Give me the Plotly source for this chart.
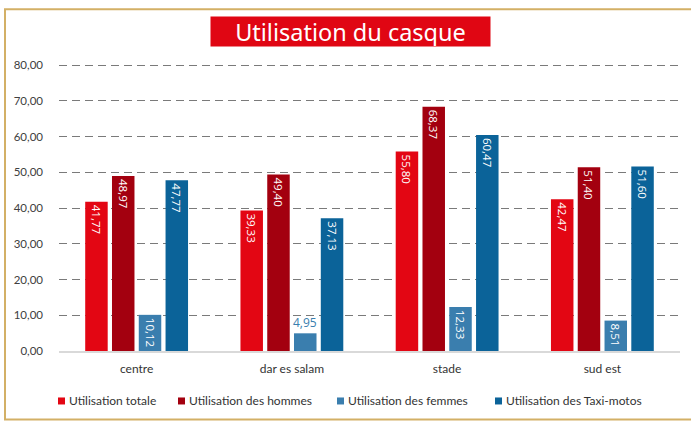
import plotly.graph_objects as go

categories = ["centre", "dar es salam", "stade", "sud est"]
series_names = ["Utilisation totale", "Utilisation des hommes",
                "Utilisation des femmes", "Utilisation des Taxi-motos"]
totale = [41.77, 39.33, 55.80, 42.47]
hommes = [48.97, 49.40, 68.37, 51.40]
femmes = [10.12, 4.95, 12.33, 8.51]
taxi = [47.77, 37.13, 60.47, 51.60]
colors = ["#e30613", "#a3000f", "#3a7eae", "#0b6399"]
y_ticks = [0, 10, 20, 30, 40, 50, 60, 70, 80]

W, H = 691, 423
Y_MAX = 82
L, R, B = 59, 11, 72
T = 65 - (Y_MAX - 80) / 80 * (H - B - 65)
pw, ph = W - L - R, H - T - B


def px(x):
    return (x - L) / pw


def py(y):
    return (H - B - y) / ph


def fmt(v):
    return f"{v:.2f}".replace(".", ",")


fig = go.Figure()
all_series = [totale, hommes, femmes, taxi]
for name, vals, col in zip(series_names, all_series, colors):
    texts = [fmt(v) if v >= 6 else "" for v in vals]
    fig.add_trace(go.Bar(
        x=categories, y=vals, name=name, marker_color=col,
        marker_line_width=0, showlegend=False,
        text=texts, textposition="inside", insidetextanchor="end",
        textangle=90, textfont=dict(color="white", size=11.5, family="Open Sans"),
        constraintext="none", cliponaxis=False,
    ))

# small value shown above its bar
fi = series_names.index("Utilisation des femmes")
for i, v in enumerate(femmes):
    if v < 6:
        fig.add_annotation(x=categories[i], y=v, text=fmt(v), showarrow=False,
                           yanchor="bottom", xshift=13.5, yshift=0,
                           font=dict(color=colors[fi], size=12, family="Open Sans"))

fig.update_layout(
    width=W, height=H,
    margin=dict(l=L, r=R, t=T, b=B, pad=0),
    paper_bgcolor="white", plot_bgcolor="white",
    barmode="group", bargap=0.31, bargroupgap=0.16,
    separators=",.",
    font=dict(family="Lato", size=11, color="#404040"),
    showlegend=False,
    xaxis=dict(showline=True, linecolor="#d9d9d9", linewidth=2, ticks="",
               automargin=False, ticklabelstandoff=6,
               tickfont=dict(size=12, family="Lato", color="#333")),
    yaxis=dict(range=[0, Y_MAX], tickvals=y_ticks, tickformat=".2f",
               showgrid=True, gridcolor="#7a7a7a", gridwidth=1.2, griddash="8px,5px",
               zeroline=False, ticks="", ticklabelstandoff=15, automargin=False,
               tickfont=dict(size=11.5, family="Lato", color="#404040")),
)

# custom legend (square + label)
legend_x = [58, 178, 337, 495]
legend_y = 401
for name, col, lx in zip(series_names, colors, legend_x):
    fig.add_shape(type="rect", xref="paper", yref="paper",
                  x0=px(lx), x1=px(lx + 7), y0=py(legend_y + 3.5), y1=py(legend_y - 3.5),
                  fillcolor=col, line_width=0)
    fig.add_annotation(xref="paper", yref="paper", x=px(lx + 9), y=py(legend_y),
                       xanchor="left", yanchor="middle", showarrow=False, text=name,
                       font=dict(size=12, family="Lato", color="#333"))

# outer golden frame
fig.add_shape(type="rect", xref="paper", yref="paper",
              x0=px(5), x1=px(705), y0=py(419.5), y1=py(9),
              line=dict(color="#d3b066", width=2), fillcolor="rgba(0,0,0,0)", layer="below")

# title box
fig.add_annotation(xref="paper", yref="paper", x=px(350.5), y=py(31.2),
                   xanchor="center", yanchor="middle",
                   text="Utilisation du casque", showarrow=False,
                   bgcolor="#e00613", width=279, height=29, borderpad=0,
                   font=dict(color="white", size=23.5, family="Noto Sans"))

fig.write_html("out.html", config={"displayModeBar": False},
               post_script="document.body.style.margin='0px';")
